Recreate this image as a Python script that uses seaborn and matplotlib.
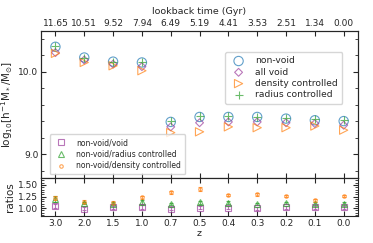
import matplotlib
matplotlib.use("Agg")
import matplotlib.pyplot as plt
import seaborn as sns
import numpy as np
import pandas as pd

sns.set_style("ticks")
plt.rcParams['font.family'] = ['DejaVu Sans']

z_labels = ["3.0", "2.0", "1.5", "1.0", "0.7", "0.5", "0.4", "0.3", "0.2", "0.1", "0.0"]
lookback = ["11.65", "10.51", "9.52", "7.94", "6.49", "5.19", "4.41", "3.53", "2.51", "1.34", "0.00"]

non_void = [10.30, 10.17, 10.12, 10.11, 9.39, 9.45, 9.45, 9.45, 9.43, 9.41, 9.40]
all_void = [10.23, 10.14, 10.09, 10.06, 9.33, 9.38, 9.39, 9.39, 9.38, 9.37, 9.35]
density_ctrl = [10.22, 10.11, 10.07, 10.01, 9.26, 9.27, 9.33, 9.32, 9.32, 9.34, 9.29]
radius_ctrl = [10.31, 10.17, 10.12, 10.12, 9.40, 9.46, 9.46, 9.45, 9.44, 9.42, 9.41]

ratio_void = [1.05, 0.99, 1.02, 1.02, 0.99, 1.01, 1.01, 1.00, 1.02, 1.02, 1.02]
ratio_void_err = [0.04, 0.03, 0.03, 0.04, 0.03, 0.03, 0.03, 0.03, 0.03, 0.03, 0.03]
ratio_radius = [1.20, 1.11, 1.10, 1.13, 1.09, 1.13, 1.12, 1.09, 1.11, 1.10, 1.10]
ratio_radius_err = [0.06, 0.03, 0.03, 0.04, 0.03, 0.03, 0.03, 0.03, 0.03, 0.03, 0.03]
ratio_density = [1.22, 1.14, 1.12, 1.23, 1.34, 1.42, 1.28, 1.30, 1.26, 1.17, 1.26]
ratio_density_err = [0.04, 0.03, 0.03, 0.04, 0.03, 0.04, 0.02, 0.03, 0.03, 0.03, 0.03]

x = np.arange(len(z_labels))

c_blue = "#1f77b4"
c_purple = "#9c3d9c"
c_orange = "#ff7f0e"
c_green = "#2ca02c"

FS = 6.5
YFS = 7.5

fig = plt.figure(figsize=(3.73, 2.43), dpi=100)
gs = fig.add_gridspec(2, 1, height_ratios=[147, 38], hspace=0,
                      left=0.11, right=0.96, top=0.872, bottom=0.111)
ax = fig.add_subplot(gs[0])
axr = fig.add_subplot(gs[1], sharex=ax)

df = pd.DataFrame({"x": x, "non-void": non_void, "all void": all_void,
                   "density controlled": density_ctrl, "radius controlled": radius_ctrl})

sns.scatterplot(data=df, x="x", y="non-void", ax=ax, marker="o", s=45,
                facecolors="none", edgecolor=c_blue, linewidth=0.8, alpha=0.7, label="non-void")
sns.scatterplot(data=df, x="x", y="all void", ax=ax, marker="D", s=16,
                facecolors="none", edgecolor=c_purple, linewidth=0.8, alpha=0.7, label="all void")
sns.scatterplot(data=df, x="x", y="density controlled", ax=ax, marker=">", s=35,
                facecolors="none", edgecolor=c_orange, linewidth=0.8, alpha=0.7, label="density controlled")
sns.scatterplot(data=df, x="x", y="radius controlled", ax=ax, marker="+", s=35,
                color=c_green, linewidth=0.8, alpha=0.7, label="radius controlled")

ax.set_ylim(8.71, 10.49)
ax.set_xlim(-0.5, 10.5)
ax.set_yticks([9.0, 10.0])
ax.set_yticklabels(["9.0", "10.0"])
ax.yaxis.set_minor_locator(matplotlib.ticker.MultipleLocator(0.2))
ax.set_ylabel(r"log$_{10}$[h$^{-1}$M$_*$/M$_{\odot}$]", fontsize=YFS, labelpad=2)
ax.set_xlabel("")
ax.tick_params(axis="both", which="both", direction="in", labelsize=FS, right=True, top=False, pad=2)
ax.tick_params(axis="x", labelbottom=False)
leg = ax.legend(loc="upper right", fontsize=6.6, frameon=True, bbox_to_anchor=(0.965, 0.89),
                handletextpad=0.8, borderpad=0.5, labelspacing=0.25)

axt = ax.twiny()
axt.set_xlim(ax.get_xlim())
axt.set_xticks(x)
axt.set_xticklabels(lookback, fontsize=FS)
axt.set_xlabel("lookback time (Gyr)", fontsize=FS + 0.3, labelpad=4)
axt.tick_params(axis="x", direction="in", labelsize=FS, pad=2)

containers = []
containers.append(axr.errorbar(x, ratio_void, yerr=ratio_void_err, fmt="s", ms=5, mfc="none",
             mec=c_purple, ecolor=c_purple, alpha=0.7, capsize=1.5, lw=0.8, mew=0.8,
             label="non-void/void"))
containers.append(axr.errorbar(x, ratio_radius, yerr=ratio_radius_err, fmt="^", ms=4, mfc="none",
             mec=c_green, ecolor=c_green, alpha=0.7, capsize=1.5, lw=0.8, mew=0.8,
             label="non-void/radius controlled"))
containers.append(axr.errorbar(x, ratio_density, yerr=ratio_density_err, fmt="o", ms=2.5, mfc="none",
             mec=c_orange, ecolor=c_orange, alpha=0.7, capsize=1.5, lw=0.8, mew=0.8,
             label="non-void/density controlled"))
axr.set_ylim(0.83, 1.65)
axr.set_yticks([1.0, 1.25, 1.5])
axr.set_yticklabels(["1.00", "1.25", "1.50"])
axr.yaxis.set_minor_locator(matplotlib.ticker.MultipleLocator(0.05))
axr.set_xticks(x)
axr.set_xticklabels(z_labels)
axr.set_xlabel("z", fontsize=FS + 0.3, labelpad=1)
axr.set_ylabel("ratios", fontsize=YFS, labelpad=2)
axr.tick_params(axis="both", which="both", direction="in", labelsize=FS, right=True, top=True, pad=2)

handles = [c[0] for c in containers]
labels = [c.get_label() for c in containers]
ax.add_artist(leg)
ax.legend(handles, labels, loc="lower left", fontsize=5.5, frameon=True, bbox_to_anchor=(0.015, 0.0),
          handletextpad=1.0, borderpad=0.5, labelspacing=0.35)

fig.savefig("out.png", dpi=100)
